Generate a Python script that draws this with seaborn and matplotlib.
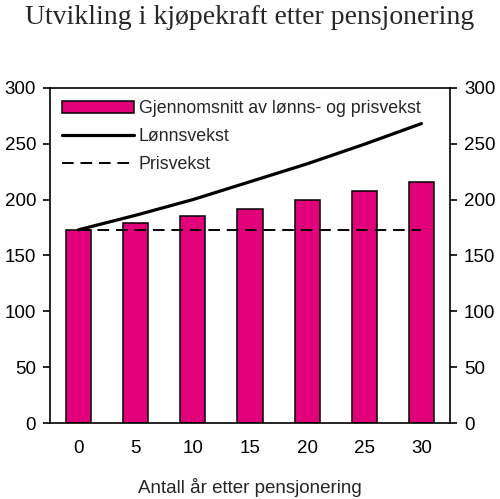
import matplotlib
matplotlib.use("Agg")
import matplotlib.pyplot as plt
import seaborn as sns
from matplotlib.patches import Patch
from matplotlib.lines import Line2D

# Data
years = ["0", "5", "10", "15", "20", "25", "30"]
snitt = [173, 179, 185.5, 192, 199.5, 207.5, 215.5]   # Gjennomsnitt av lønns- og prisvekst
lonn = [173, 186, 200, 216, 232, 249.5, 268]          # Lønnsvekst
pris = [173, 173, 173, 173, 173, 173, 173]            # Prisvekst

bar_color = "#E2007A"

sns.set_style("white")
plt.rcParams["font.family"] = ["Liberation Sans", "DejaVu Sans"]

fig = plt.figure(figsize=(5.0, 4.99), dpi=100)
ax = fig.add_axes([0.1, 0.152, 0.8, 0.672])

sns.barplot(x=years, y=snitt, color=bar_color, saturation=1, width=0.44,
            edgecolor="black", linewidth=1.1, ax=ax)
sns.pointplot(x=years, y=lonn, color="black", markers="", linestyles="-",
              linewidth=2.3, ax=ax)
sns.pointplot(x=years, y=pris, color="black", markers="", linestyles=(0, (6, 3.5)),
              linewidth=1.4, ax=ax)

ax.set_ylim(0, 300)
ax.set_xlim(-0.5, 6.5)
ax.set_yticks(range(0, 301, 50))
ax.set_xlabel("Antall år etter pensjonering", fontsize=13.5, labelpad=15)
ax.set_ylabel("")

for s in ax.spines.values():
    s.set_visible(True)
    s.set_color("black")
    s.set_linewidth(1.2)

ax.tick_params(axis="y", which="both", direction="out", length=5, width=1.2,
               left=True, right=True, labelleft=True, labelright=True,
               labelsize=13.5, pad=5, colors="black")
ax.tick_params(axis="x", length=0, labelsize=13.5, pad=12, colors="black")

handles = [
    Patch(facecolor=bar_color, edgecolor="black", linewidth=1.1),
    Line2D([], [], color="black", linewidth=2.3),
    Line2D([], [], color="black", linewidth=1.4, linestyle=(0, (6, 3.5))),
]
labels = ["Gjennomsnitt av lønns- og prisvekst", "Lønnsvekst", "Prisvekst"]
ax.legend(handles, labels, loc="upper left", frameon=False, fontsize=12.8,
          handlelength=4.0, handleheight=0.6, handletextpad=0.3,
          labelspacing=0.62, borderaxespad=0.3, bbox_to_anchor=(0.0, 1.0))

fig.text(0.5, 1 - 17 / 499, "Utvikling i kjøpekraft etter pensjonering",
         ha="center", va="center", fontsize=20,
         family=["Liberation Serif", "DejaVu Serif"])

fig.savefig("out.png", dpi=100)
